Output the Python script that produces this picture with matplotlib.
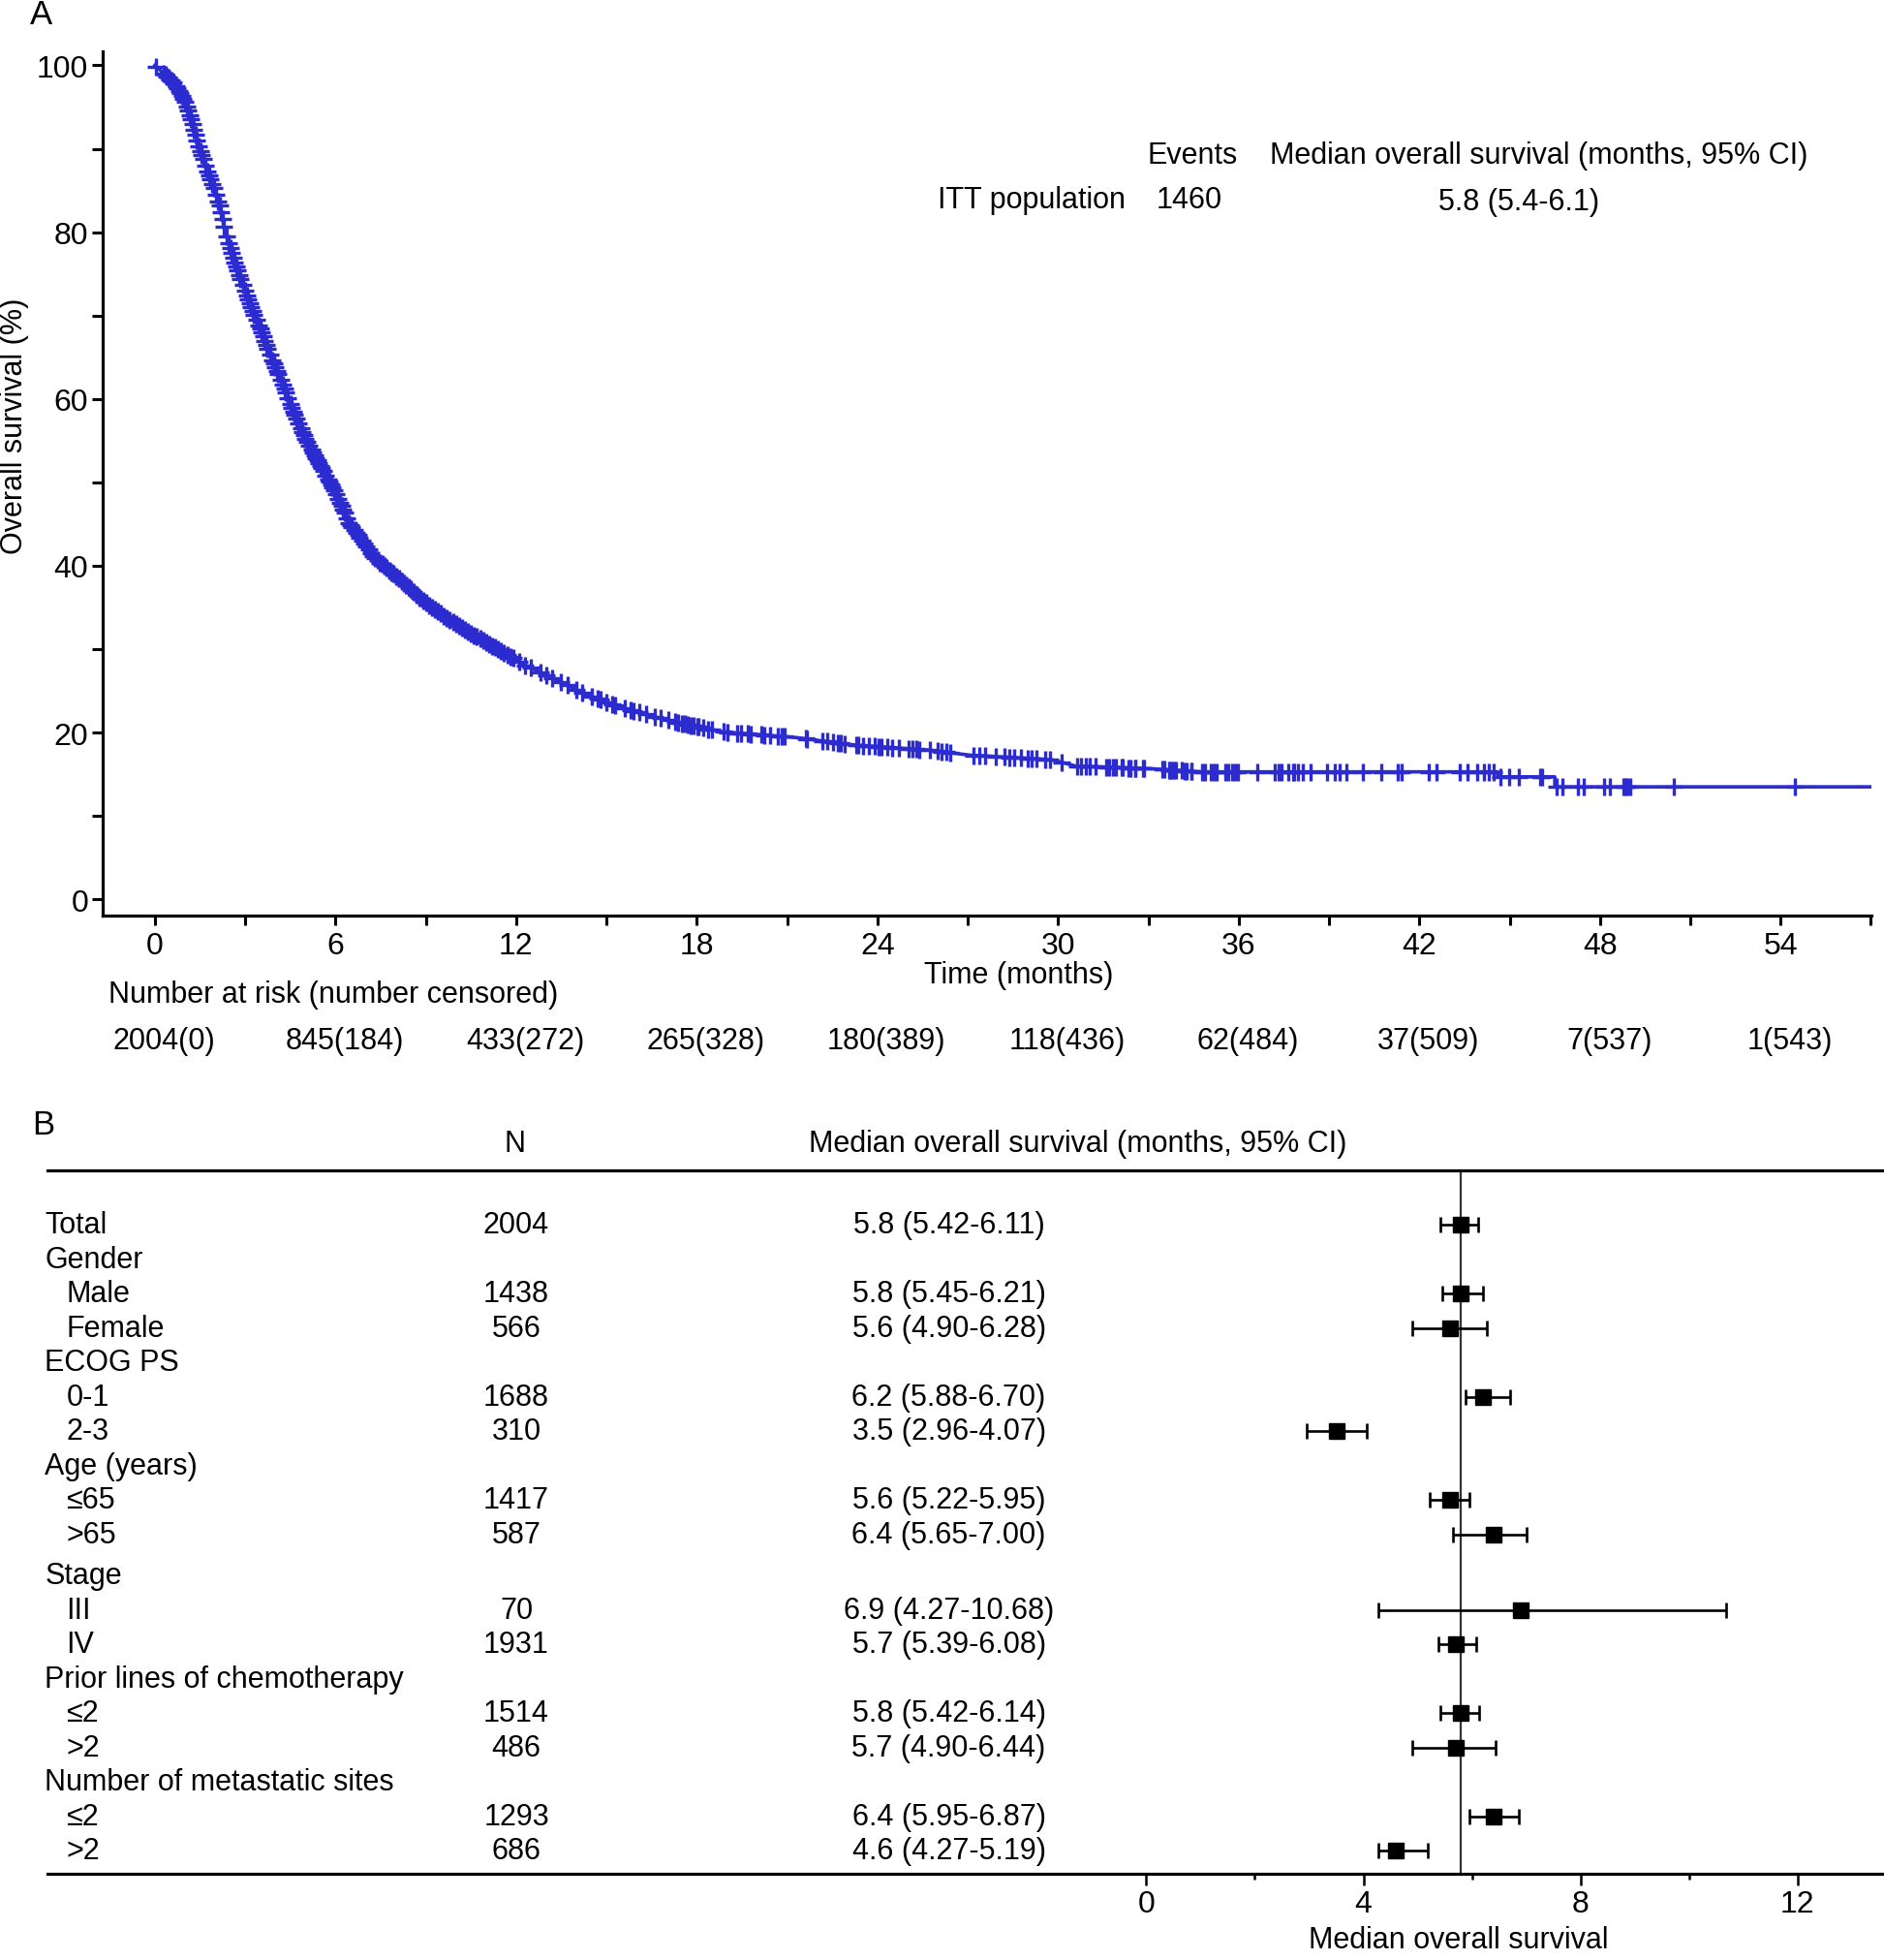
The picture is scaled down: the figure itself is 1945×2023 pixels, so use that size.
import matplotlib
matplotlib.use("Agg")
import matplotlib.pyplot as plt
import numpy as np
from matplotlib import transforms
from matplotlib.ticker import MultipleLocator, FixedLocator

plt.rcParams['font.family'] = ['Liberation Sans', 'DejaVu Sans']

# ---------------- Panel A data ----------------
km_time = [0, 0.64, 0.97, 1.23, 1.50, 1.82, 2.15, 2.36, 2.63, 2.90, 3.22, 3.54, 3.81,
           4.18, 4.61, 5.04, 5.58, 6.01, 6.44, 7.29, 8.15, 9.01, 10.08, 11.16, 12.23,
           13.30, 14.37, 15.44, 16.50, 17.60, 18.84, 21.33, 23.25, 25.73, 27.08, 29.79,
           30.58, 33.14, 34.70, 44.60, 44.60, 46.50, 46.50, 57.0]
km_surv = [100, 97.9, 95.9, 93.2, 89.7, 86.6, 83.2, 79.7, 76.6, 73.9, 70.8, 68.1, 65.4,
           62.3, 58.4, 54.9, 51.5, 48.7, 45.2, 41.0, 38.3, 35.5, 32.8, 30.5, 28.2,
           26.4, 24.5, 23.1, 22.0, 21.0, 20.1, 19.4, 18.5, 17.9, 17.3, 16.75,
           16.0, 15.67, 15.3, 15.3, 14.7, 14.7, 13.5, 13.5]

censor_time = [0.05, 0.3, 0.35, 0.4, 0.45, 0.5, 0.55, 0.62, 0.7, 0.75, 0.8, 0.85, 0.9,
               0.95, 1.0, 1.05, 1.1, 1.15, 1.2, 1.25, 1.3, 1.35, 1.4, 1.45, 1.5, 1.55,
               1.6, 1.68, 1.75, 1.8, 1.85, 1.9, 1.95, 2.02, 2.1, 2.15, 2.2, 2.25, 2.3,
               2.38, 2.45, 2.5, 2.55, 2.6, 2.65, 2.7, 2.75, 2.8, 2.85, 2.92, 3.0, 3.05,
               3.1, 3.15, 3.2, 3.25, 3.3, 3.38, 3.45, 3.5, 3.55, 3.6, 3.65, 3.7, 3.75,
               3.82, 3.9, 3.95, 4.0, 4.05, 4.1, 4.18, 4.25, 4.3, 4.35, 4.42, 4.5, 4.55,
               4.6, 4.65, 4.7, 4.78, 4.85, 4.9, 4.95, 5.0, 5.05, 5.12, 5.2, 5.25, 5.3,
               5.35, 5.4, 5.45, 5.5, 5.55, 5.6, 5.68, 5.75, 5.8, 5.85, 5.9, 5.95,
               6.02, 6.1, 6.15, 6.2, 6.25, 6.3, 6.38, 6.45, 6.5, 6.55, 6.62, 6.7, 6.75,
               6.8, 6.88, 6.95, 7.02, 7.1, 7.18, 7.25, 7.32, 7.4, 7.48, 7.55, 7.62, 7.7,
               7.78, 7.85, 7.92, 8.0, 8.1, 8.2, 8.28, 8.35, 8.42, 8.5, 8.6, 8.7, 8.8,
               8.9, 9.0, 9.1, 9.2, 9.3, 9.4, 9.5, 9.6, 9.7, 9.8, 9.9, 10.0, 10.1, 10.2,
               10.3, 10.4, 10.5, 10.6, 10.7, 10.8, 10.9, 11.0, 11.1, 11.2, 11.3, 11.4,
               11.5, 11.6, 11.7, 11.8, 11.9,
               12.1, 12.3, 12.5, 12.8, 13.0, 13.2, 13.5, 13.7, 14.0, 14.2, 14.5, 14.7,
               14.8, 15.0, 15.2, 15.3, 15.6, 15.8, 15.9, 16.1, 16.3, 16.6, 16.8, 17.05,
               17.27, 17.37, 17.49, 17.59, 17.71, 17.80, 17.88, 18.02, 18.05, 18.22,
               18.39, 18.50, 18.88, 19.01, 19.35, 19.46, 19.69, 19.80, 20.14, 20.25,
               20.42, 20.70, 20.82, 20.93, 21.61, 21.66, 22.17, 22.34, 22.51, 22.68,
               22.79, 22.91, 23.30, 23.36, 23.53, 23.70, 23.92, 24.04, 24.15, 24.32,
               24.49, 24.71, 25.05, 25.16, 25.28, 25.39, 25.73, 26.01, 26.12, 26.29,
               26.41, 27.20, 27.37, 27.59, 27.93, 28.21, 28.38, 28.55, 28.78, 29.00,
               29.12, 29.28, 29.57, 29.74, 30.13, 30.64, 30.75, 30.92, 31.04, 31.26,
               31.60, 31.71, 31.83, 31.91, 32.12, 32.16, 32.34, 32.39, 32.55, 32.56,
               32.82, 32.84, 33.46, 33.52, 33.69, 33.73, 33.78, 33.84, 33.91, 34.11,
               34.20, 34.27, 34.42, 34.43, 34.80, 34.87, 35.07, 35.18, 35.28, 35.55,
               35.66, 35.77, 35.87, 35.98, 36.62, 37.21, 37.32, 37.43, 37.64, 37.80,
               37.85, 37.96, 38.12, 38.39, 38.93, 39.20, 39.36, 39.57, 40.11, 40.75,
               41.29, 41.40, 42.31, 42.58, 43.33, 43.60, 43.92, 44.14, 44.30, 44.46,
               44.70, 44.97, 45.30, 46.02, 46.09, 46.55, 46.75, 47.27, 47.47, 48.13,
               48.33, 48.79, 48.86, 48.92, 48.99, 50.44, 54.46]

risk_times = [0, 6, 12, 18, 24, 30, 36, 42, 48, 54]
risk_labels = ["2004(0)", "845(184)", "433(272)", "265(328)", "180(389)",
               "118(436)", "62(484)", "37(509)", "7(537)", "1(543)"]

# ---------------- Panel B data ----------------
row_labels = ["Total", "Gender", "Male", "Female", "ECOG PS", "0-1", "2-3",
              "Age (years)", "\u226465", ">65", "Stage", "III", "IV",
              "Prior lines of chemotherapy", "\u22642", ">2",
              "Number of metastatic sites", "\u22642", ">2"]
row_indent = [0, 0, 1, 1, 0, 1, 1, 0, 1, 1, 0, 1, 1, 0, 1, 1, 0, 1, 1]
row_n = [2004, None, 1438, 566, None, 1688, 310, None, 1417, 587, None, 70, 1931,
         None, 1514, 486, None, 1293, 686]
row_med = [5.8, None, 5.8, 5.6, None, 6.2, 3.5, None, 5.6, 6.4, None, 6.9, 5.7,
           None, 5.8, 5.7, None, 6.4, 4.6]
row_lo = [5.42, None, 5.45, 4.90, None, 5.88, 2.96, None, 5.22, 5.65, None, 4.27, 5.39,
          None, 5.42, 4.90, None, 5.95, 4.27]
row_hi = [6.11, None, 6.21, 6.28, None, 6.70, 4.07, None, 5.95, 7.00, None, 10.68, 6.08,
          None, 6.14, 6.44, None, 6.87, 5.19]

BLUE = '#2b2bcf'
FS = 22
TFS = 23

fig = plt.figure(figsize=(19.45, 20.24), dpi=100)
W, H = 1507.0, 1568.0


def fx(px):
    return px / W


def fy(py):
    return 1 - py / H


# ======================= Panel A =======================
axA = fig.add_axes([fx(82), fy(733), fx(1497) - fx(82), fy(42) - fy(733)])
axA.plot(km_time, km_surv, color=BLUE, lw=2.6)
cy = np.interp(censor_time, km_time, km_surv)
axA.plot(censor_time, cy, ls='none', marker='+', ms=13, mew=2.4, color=BLUE)
axA.set_xlim(-1.74, 57.02)
axA.set_ylim(-1.95, 101.65)
for s in ['top', 'right']:
    axA.spines[s].set_visible(False)
for s in ['left', 'bottom']:
    axA.spines[s].set_linewidth(2.3)
axA.set_xticks(risk_times)
axA.xaxis.set_minor_locator(MultipleLocator(3))
axA.set_yticks([0, 20, 40, 60, 80, 100])
axA.yaxis.set_minor_locator(MultipleLocator(10))
axA.tick_params(axis='both', which='both', direction='out', width=2.2, labelsize=TFS)
axA.tick_params(axis='y', which='both', length=8, pad=2.5)
axA.tick_params(axis='x', which='both', length=7.5, pad=4)

fig.text(fx(12), fy(341), "Overall survival (%)", rotation=90, ha='center', va='center', fontsize=FS)
fig.text(fx(815), fy(780), "Time (months)", ha='center', va='center', fontsize=FS)
fig.text(fx(33), fy(12), "A", ha='center', va='center', fontsize=25)

fig.text(fx(954), fy(125), "Events", ha='center', va='center', fontsize=FS)
fig.text(fx(1231), fy(125), "Median overall survival (months, 95% CI)", ha='center', va='center', fontsize=FS)
fig.text(fx(825), fy(160), "ITT population", ha='center', va='center', fontsize=FS)
fig.text(fx(951), fy(160), "1460", ha='center', va='center', fontsize=FS)
fig.text(fx(1215), fy(162), "5.8 (5.4-6.1)", ha='center', va='center', fontsize=FS)

fig.text(fx(87), fy(796), "Number at risk (number censored)", ha='left', va='center', fontsize=FS)
trA = transforms.blended_transform_factory(axA.transData, fig.transFigure)
for t, lab in zip(risk_times, risk_labels):
    axA.text(t + 0.3, fy(833), lab, transform=trA, ha='center', va='center', fontsize=FS, clip_on=False)

# ======================= Panel B =======================
axB = fig.add_axes([fx(38), fy(1499), 1 - fx(38), fy(937) - fy(1499)])
ypos = np.array([i + (0.2 if i >= 10 else 0.0) for i in range(len(row_labels))])
axB.set_xlim(-20.24, 13.59)
axB.set_ylim(18.87, -1.564)
for s in ['left', 'right']:
    axB.spines[s].set_visible(False)
for s in ['top', 'bottom']:
    axB.spines[s].set_linewidth(2.3)
axB.set_yticks([])
axB.set_xticks([0, 4, 8, 12])
axB.xaxis.set_minor_locator(FixedLocator([2, 6, 10]))
axB.tick_params(axis='x', which='major', direction='out', length=8.5, width=1.8, labelsize=TFS, pad=3)
axB.tick_params(axis='x', which='minor', direction='out', length=4, width=1.8)

axB.axvline(row_med[0], color='#333333', lw=1.6, zorder=1)

idx = [i for i in range(len(row_labels)) if row_med[i] is not None]
med = np.array([row_med[i] for i in idx])
lo = np.array([row_lo[i] for i in idx])
hi = np.array([row_hi[i] for i in idx])
axB.errorbar(med, ypos[idx], xerr=[med - lo, hi - med], fmt='s', color='black',
             ms=11, capsize=6, elinewidth=1.9, capthick=1.9, zorder=3)

trB = transforms.blended_transform_factory(fig.transFigure, axB.transData)
for i, lab in enumerate(row_labels):
    x0 = fx(53) if row_indent[i] else fx(36)
    axB.text(x0, ypos[i], lab, transform=trB, ha='left', va='center', fontsize=FS, clip_on=False)
    if row_n[i] is not None:
        axB.text(fx(413), ypos[i], str(row_n[i]), transform=trB, ha='center', va='center',
                 fontsize=FS, clip_on=False)
        ci = "%.1f (%.2f-%.2f)" % (row_med[i], row_lo[i], row_hi[i])
        axB.text(fx(759), ypos[i], ci, transform=trB, ha='center', va='center',
                 fontsize=FS, clip_on=False)

fig.text(fx(412), fy(915), "N", ha='center', va='center', fontsize=FS)
fig.text(fx(862), fy(915), "Median overall survival (months, 95% CI)", ha='center', va='center', fontsize=FS)
fig.text(fx(35), fy(900), "B", ha='center', va='center', fontsize=25)
fig.text(fx(1167), fy(1552), "Median overall survival", ha='center', va='center', fontsize=FS)

fig.savefig("out.png", dpi=100)
